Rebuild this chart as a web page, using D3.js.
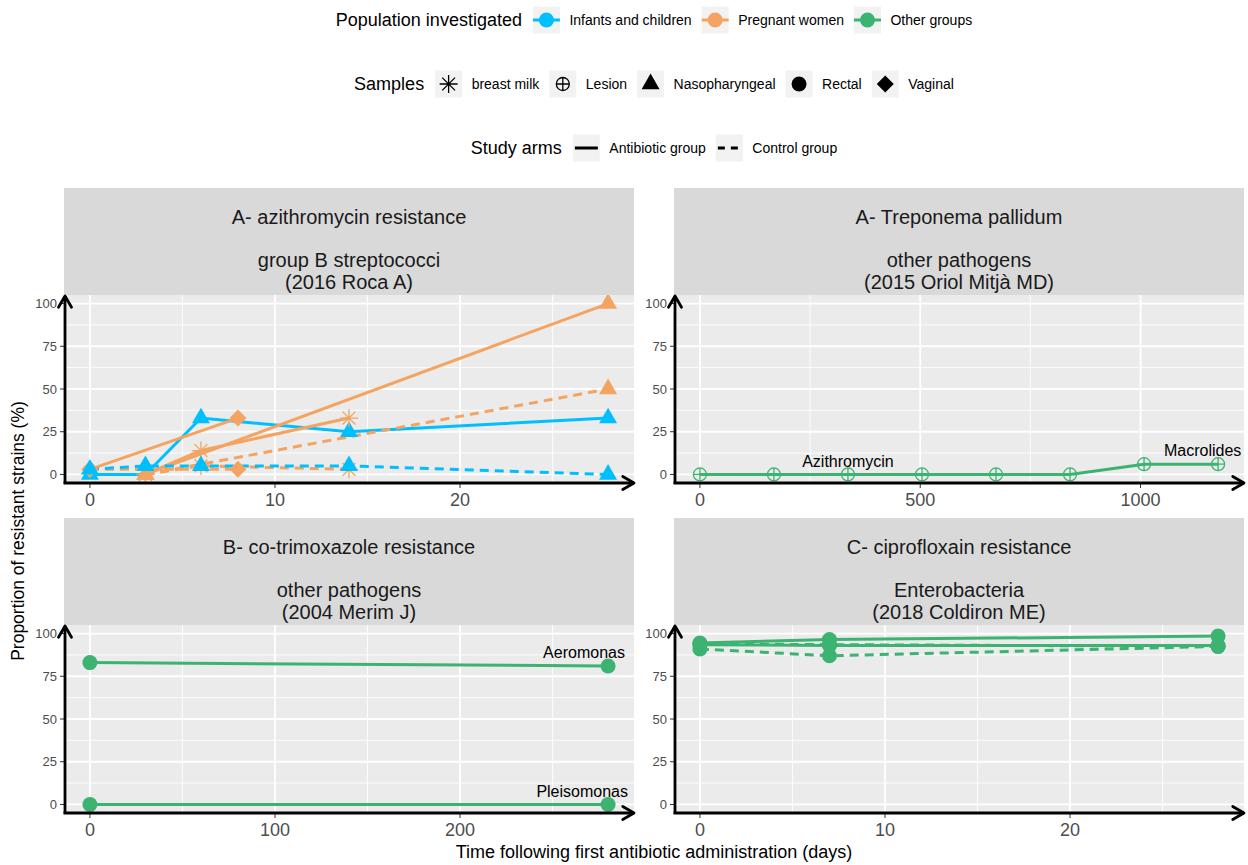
<!DOCTYPE html>
<html>
<head>
<meta charset="utf-8">
<script src="https://cdn.jsdelivr.net/npm/d3@7"></script>
<style>
  body { margin: 0; background: #fff; }
  svg { font-family: "Liberation Sans", Arial, sans-serif; }
</style>
</head>
<body>
<svg id="chart" width="1248" height="865"></svg>
<script>
// legend categories
var populations = ["Infants and children", "Pregnant women", "Other groups"];
var populationColours = ["#00BFFF", "#F4A460", "#3CB371"];
var samples = ["breast milk", "Lesion", "Nasopharyngeal", "Rectal", "Vaginal"];
var arms = ["Antibiotic group", "Control group"];

// facet strips
var stripTitles = ["A- azithromycin resistance", "A- Treponema pallidum", "B- co-trimoxazole resistance", "C- ciprofloxain resistance"];
var stripSubtitles = ["group B streptococci", "other pathogens", "other pathogens", "Enterobacteria"];
var stripStudies = ["(2016 Roca A)", "(2015 Oriol Mitjà MD)", "(2004 Merim J)", "(2018 Coldiron ME)"];

var panelMaxDays = [28, 1176, 280, 28];
var xTicks = [[0, 10, 20], [0, 500, 1000], [0, 100, 200], [0, 10, 20]];
var yTicks = [0, 25, 50, 75, 100];

// 2016 Roca A - group B streptococci
var rocaNasoDays = [0, 3, 6, 14, 28];
var rocaInfantAbx = [0, 0, 33, 25, 33];
var rocaInfantCtl = [3, 5, 5, 5, 0];
var rocaMotherNasoDays = [3, 28];
var rocaMotherNasoAbx = [0, 100];
var rocaMotherNasoCtl = [0, 50];
var rocaVaginalDays = [0, 8];
var rocaVaginalAbx = [3, 33];
var rocaVaginalCtl = [3, 3];
var rocaMilkDays = [3, 6, 14];
var rocaMilkAbx = [0, 14, 33];
var rocaMilkCtl = [0, 5, 3];

// 2015 Oriol Mitja - Treponema pallidum
var mitjaDays = [0, 168, 336, 504, 672, 840, 1008, 1176];
var mitjaLesion = [0, 0, 0, 0, 0, 0, 6, 6];

// 2004 Merim J
var merimDays = [0, 280];
var merimAeromonas = [83, 81];
var merimPleisomonas = [0, 0];

// 2018 Coldiron ME - Enterobacteria
var coldironDays = [0, 7, 28];
var coldironAbxA = [94.5, 96.5, 98.5];
var coldironAbxB = [93.5, 93, 93];
var coldironCtlA = [94, 93.5, 92.5];
var coldironCtlB = [91, 87, 92.5];

// text labels inside panels
var noteTexts = ["Azithromycin", "Macrolides", "Aeromonas", "Pleisomonas"];
var notePanels = [1, 1, 2, 2];
var noteDays = [336, 1141, 267, 266];
var noteValues = [7.6, 14, 89, 7.7];

// panel, population, sample, arm indices
var series = [
  { panel: 0, pop: 0, sample: 2, arm: 0, days: rocaNasoDays, values: rocaInfantAbx },
  { panel: 0, pop: 1, sample: 4, arm: 0, days: rocaVaginalDays, values: rocaVaginalAbx },
  { panel: 0, pop: 1, sample: 4, arm: 1, days: rocaVaginalDays, values: rocaVaginalCtl },
  { panel: 0, pop: 1, sample: 2, arm: 0, days: rocaMotherNasoDays, values: rocaMotherNasoAbx },
  { panel: 0, pop: 1, sample: 2, arm: 1, days: rocaMotherNasoDays, values: rocaMotherNasoCtl },
  { panel: 0, pop: 1, sample: 0, arm: 0, days: rocaMilkDays, values: rocaMilkAbx },
  { panel: 0, pop: 1, sample: 0, arm: 1, days: rocaMilkDays, values: rocaMilkCtl },
  { panel: 0, pop: 0, sample: 2, arm: 1, days: rocaNasoDays, values: rocaInfantCtl },
  { panel: 1, pop: 2, sample: 1, arm: 0, days: mitjaDays, values: mitjaLesion },
  { panel: 2, pop: 2, sample: 3, arm: 0, days: merimDays, values: merimAeromonas },
  { panel: 2, pop: 2, sample: 3, arm: 0, days: merimDays, values: merimPleisomonas },
  { panel: 3, pop: 2, sample: 3, arm: 1, days: coldironDays, values: coldironCtlA },
  { panel: 3, pop: 2, sample: 3, arm: 1, days: coldironDays, values: coldironCtlB },
  { panel: 3, pop: 2, sample: 3, arm: 0, days: coldironDays, values: coldironAbxA },
  { panel: 3, pop: 2, sample: 3, arm: 0, days: coldironDays, values: coldironAbxB }
];

var svg = d3.select("#chart");
var dash = "9,6";

function shapePath(sample) {
  if (sample === "Nasopharyngeal") return d3.symbol(d3.symbolTriangle, 140)();
  if (sample === "Rectal") return d3.symbol(d3.symbolCircle, Math.PI * 7.5 * 7.5)();
  if (sample === "Vaginal") return "M0,-8.5L8.5,0L0,8.5L-8.5,0Z";
  if (sample === "breast milk") return "M0,-9V9M-9,0H9M-6.4,-6.4L6.4,6.4M-6.4,6.4L6.4,-6.4";
  // Lesion: open circle with a cross
  return "M-6.5,0A6.5,6.5 0 1,0 6.5,0A6.5,6.5 0 1,0 -6.5,0ZM0,-6.5V6.5M-6.5,0H6.5";
}
function isOpen(sample) {
  return sample === "breast milk" || sample === "Lesion";
}
function styleShape(sel, sample, colour) {
  if (isOpen(sample)) {
    sel.attr("fill", "none").attr("stroke", colour).attr("stroke-width", 1.3);
  } else {
    sel.attr("fill", colour).attr("stroke", "none");
  }
}

function arrowHead(g, tipX, tipY, dir) {
  // dir: "up" or "right"
  var L = 13, a = Math.PI / 6;
  var dx = L * Math.cos(a), dy = L * Math.sin(a);
  var p = dir === "up"
    ? [[tipX - dy, tipY + dx], [tipX, tipY], [tipX + dy, tipY + dx]]
    : [[tipX - dx, tipY - dy], [tipX, tipY], [tipX - dx, tipY + dy]];
  g.append("path")
    .attr("d", d3.line()(p))
    .attr("fill", "none")
    .attr("stroke", "black")
    .attr("stroke-width", 2.8)
    .attr("stroke-linecap", "round")
    .attr("stroke-linejoin", "round");
}

function drawPanel(i) {
  var col = i % 2, row = Math.floor(i / 2);
  var x0 = col ? 674 : 64, x1 = x0 + 570;
  var stripTop = row ? 518 : 188, top = row ? 625 : 295, bottom = row ? 813 : 483;
  var maxDay = panelMaxDays[i];

  var x = d3.scaleLinear().domain([-0.05 * maxDay, 1.05 * maxDay]).range([x0, x1]);
  var y = d3.scaleLinear().domain([-5, 105]).range([bottom, top]);

  var g = svg.append("g").attr("class", "panel");

  // strip
  g.append("rect")
    .attr("x", x0).attr("y", stripTop)
    .attr("width", x1 - x0).attr("height", top - stripTop)
    .attr("fill", "#D9D9D9");
  var cx = (x0 + x1) / 2;
  [[stripTitles[i], 29], [stripSubtitles[i], 72], [stripStudies[i], 94]].forEach(function(t) {
    g.append("text")
      .attr("x", cx).attr("y", stripTop + t[1])
      .attr("text-anchor", "middle")
      .attr("dominant-baseline", "central")
      .attr("font-size", "20px")
      .attr("fill", "#1A1A1A")
      .text(t[0]);
  });

  // background and grid
  g.append("rect")
    .attr("x", x0).attr("y", top)
    .attr("width", x1 - x0).attr("height", bottom - top)
    .attr("fill", "#EBEBEB");

  var xt = xTicks[i], step = xt[1] - xt[0];
  var dom = x.domain();
  var xMinor = d3.range(Math.floor(dom[0] / step), Math.ceil(dom[1] / step) + 1)
    .map(function(k) { return (k + 0.5) * step; })
    .filter(function(v) { return v > dom[0] && v < dom[1]; });
  var yMinor = [12.5, 37.5, 62.5, 87.5];

  g.selectAll("line.xminor").data(xMinor).enter().append("line")
    .attr("x1", x).attr("x2", x).attr("y1", top).attr("y2", bottom)
    .attr("stroke", "#fff").attr("stroke-width", 0.9);
  g.selectAll("line.yminor").data(yMinor).enter().append("line")
    .attr("x1", x0).attr("x2", x1).attr("y1", y).attr("y2", y)
    .attr("stroke", "#fff").attr("stroke-width", 0.9);
  g.selectAll("line.xmajor").data(xt).enter().append("line")
    .attr("x1", x).attr("x2", x).attr("y1", top).attr("y2", bottom)
    .attr("stroke", "#fff").attr("stroke-width", 1.8);
  g.selectAll("line.ymajor").data(yTicks).enter().append("line")
    .attr("x1", x0).attr("x2", x1).attr("y1", y).attr("y2", y)
    .attr("stroke", "#fff").attr("stroke-width", 1.8);

  // data
  svg.append("clipPath").attr("id", "clip" + i)
    .append("rect")
    .attr("x", x0).attr("y", top)
    .attr("width", x1 - x0).attr("height", bottom - top);
  var plot = g.append("g").attr("clip-path", "url(#clip" + i + ")");

  var ser = series.filter(function(s) { return s.panel === i; });
  var line = d3.line()
    .x(function(d) { return x(d[0]); })
    .y(function(d) { return y(d[1]); });

  plot.selectAll("path.series").data(ser).enter().append("path")
    .attr("class", "series")
    .attr("d", function(s) { return line(d3.zip(s.days, s.values)); })
    .attr("fill", "none")
    .attr("stroke", function(s) { return populationColours[s.pop]; })
    .attr("stroke-width", 3)
    .attr("stroke-dasharray", function(s) { return s.arm === 1 ? dash : null; });

  ser.forEach(function(s) {
    var colour = populationColours[s.pop];
    var sample = samples[s.sample];
    plot.selectAll(null).data(d3.zip(s.days, s.values)).enter().append("path")
      .attr("d", shapePath(sample))
      .attr("transform", function(d) { return "translate(" + x(d[0]) + "," + y(d[1]) + ")"; })
      .call(styleShape, sample, colour);
  });

  // notes
  noteTexts.forEach(function(t, k) {
    if (notePanels[k] !== i) return;
    g.append("text")
      .attr("x", x(noteDays[k])).attr("y", y(noteValues[k]))
      .attr("text-anchor", "middle")
      .attr("dominant-baseline", "central")
      .attr("font-size", "16px")
      .attr("fill", "black")
      .text(t);
  });

  // ticks and labels
  g.selectAll("line.xtick").data(xt).enter().append("line")
    .attr("x1", x).attr("x2", x).attr("y1", bottom).attr("y2", bottom + 5)
    .attr("stroke", "#333").attr("stroke-width", 1);
  g.selectAll("text.xlab").data(xt).enter().append("text")
    .attr("x", x).attr("y", bottom + 17)
    .attr("text-anchor", "middle")
    .attr("dominant-baseline", "central")
    .attr("font-size", "18px")
    .attr("fill", "#4D4D4D")
    .text(function(d) { return d; });
  g.selectAll("line.ytick").data(yTicks).enter().append("line")
    .attr("x1", x0 - 4).attr("x2", x0).attr("y1", y).attr("y2", y)
    .attr("stroke", "#333").attr("stroke-width", 1);
  g.selectAll("text.ylab").data(yTicks).enter().append("text")
    .attr("x", x0 - 7).attr("y", y)
    .attr("text-anchor", "end")
    .attr("dominant-baseline", "central")
    .attr("font-size", "13px")
    .attr("fill", "#4D4D4D")
    .text(function(d) { return d; });

  // axis lines with arrows
  g.append("line")
    .attr("x1", x0 + 1).attr("x2", x0 + 1).attr("y1", bottom + 1).attr("y2", top + 1)
    .attr("stroke", "black").attr("stroke-width", 2.8);
  arrowHead(g, x0 + 1, top + 1, "up");
  g.append("line")
    .attr("x1", x0 - 0.4).attr("x2", x1).attr("y1", bottom).attr("y2", bottom)
    .attr("stroke", "black").attr("stroke-width", 2.8);
  arrowHead(g, x1, bottom, "right");
}

d3.range(4).forEach(drawPanel);

// axis titles
svg.append("text")
  .attr("x", 654).attr("y", 852)
  .attr("text-anchor", "middle")
  .attr("dominant-baseline", "central")
  .attr("font-size", "18px")
  .text("Time following first antibiotic administration (days)");
svg.append("text")
  .attr("transform", "translate(18,531) rotate(-90)")
  .attr("text-anchor", "middle")
  .attr("dominant-baseline", "central")
  .attr("font-size", "17.5px")
  .text("Proportion of resistant strains (%)");

// legends
var legendRows = [
  { title: "Population investigated", y: 20, labels: populations, kind: "pop" },
  { title: "Samples", y: 84, labels: samples, kind: "sample" },
  { title: "Study arms", y: 148, labels: arms, kind: "arm" }
];
var keySize = 27;

legendRows.forEach(function(r) {
  var lg = svg.append("g");
  var title = lg.append("text")
    .attr("y", r.y)
    .attr("dominant-baseline", "central")
    .attr("font-size", "18px")
    .text(r.title);
  var labelNodes = r.labels.map(function(l) {
    return lg.append("text")
      .attr("y", r.y)
      .attr("dominant-baseline", "central")
      .attr("font-size", "14px")
      .text(l);
  });
  var tw = title.node().getComputedTextLength();
  var widths = labelNodes.map(function(n) { return n.node().getComputedTextLength(); });
  var total = tw + 11 + d3.sum(widths, function(w) { return keySize + 9.5 + w; }) + 10 * (widths.length - 1);
  var xPos = 654 - total / 2;
  title.attr("x", xPos);
  xPos += tw + 11;
  r.labels.forEach(function(l, k) {
    var kx = xPos, kcx = kx + keySize / 2;
    lg.append("rect")
      .attr("x", kx).attr("y", r.y - keySize / 2)
      .attr("width", keySize).attr("height", keySize)
      .attr("fill", "#F2F2F2");
    if (r.kind === "pop") {
      lg.append("line")
        .attr("x1", kx).attr("x2", kx + keySize).attr("y1", r.y).attr("y2", r.y)
        .attr("stroke", populationColours[k]).attr("stroke-width", 3);
      lg.append("circle")
        .attr("cx", kcx).attr("cy", r.y).attr("r", 7.5)
        .attr("fill", populationColours[k]);
    } else if (r.kind === "sample") {
      lg.append("path")
        .attr("d", shapePath(l))
        .attr("transform", "translate(" + kcx + "," + r.y + ")")
        .call(styleShape, l, "black");
    } else {
      lg.append("line")
        .attr("x1", kx + 2).attr("x2", kx + keySize - 2).attr("y1", r.y).attr("y2", r.y)
        .attr("stroke", "black").attr("stroke-width", 3)
        .attr("stroke-dasharray", k === 1 ? "7,6" : null);
    }
    labelNodes[k].attr("x", kx + keySize + 9.5);
    xPos += keySize + 9.5 + widths[k] + 10;
  });
});
</script>
</body>
</html>
